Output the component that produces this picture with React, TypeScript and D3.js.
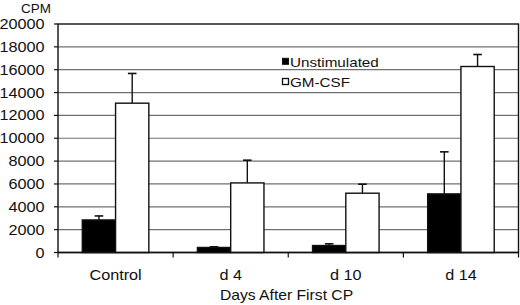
import React from "react";
import * as d3 from "d3";

const categories = ["Control", "d 4", "d 10", "d 14"];
const seriesNames = ["Unstimulated", "GM-CSF"];
const unstimulated = [2850, 440, 610, 5130];
const unstimulatedErr = [350, 60, 150, 3680];
const gmcsf = [13070, 6090, 5190, 16280];
const gmcsfErr = [2600, 1990, 790, 1050];
const yTicks = [0, 2000, 4000, 6000, 8000, 10000, 12000, 14000, 16000, 18000, 20000];

const W = 520;
const H = 305;
const left = 58;
const right = 518.5;
const top = 24;
const bottom = 252.5;
const SX = 1.12;

function T({ x, y, anchor = "start", size = 14, children }: any) {
  return (
    <text
      transform={`translate(${x},${y}) scale(${SX},1)`}
      textAnchor={anchor}
      fontSize={size}
      fontFamily="'Liberation Sans', Arial, sans-serif"
      fill="#111"
    >
      {children}
    </text>
  );
}

export default function App() {
  const x0 = d3.scaleBand<string>().domain(categories).range([left, right]).padding(0);
  const bw = x0.bandwidth();
  const gap = bw * 0.211;
  const x1 = d3.scaleBand<string>().domain(seriesNames).range([gap, bw - gap]).padding(0);
  const y = d3.scaleLinear().domain([0, 20000]).range([bottom, top]);
  const series = [
    { name: seriesNames[0], vals: unstimulated, errs: unstimulatedErr, fill: "#000" },
    { name: seriesNames[1], vals: gmcsf, errs: gmcsfErr, fill: "#fff" },
  ];
  const tickXs = categories.map((c) => x0(c)!).concat([right]);

  return (
    <svg width={W} height={H} style={{ position: "absolute", left: 0, top: 0, background: "#fff" }}>
      <rect x={0} y={0} width={W} height={H} fill="#fff" />
      {yTicks.map((t) => (
        <g key={t}>
          {t > 0 && t < 20000 && (
            <line x1={left} x2={right} y1={y(t)} y2={y(t)} stroke="#707070" strokeWidth={1.2} />
          )}
          <line x1={left - 4} x2={left} y1={y(t)} y2={y(t)} stroke="#111" strokeWidth={1.2} />
          <T x={44.5} y={y(t) + 5} anchor="end" size={14.5}>
            {d3.format("d")(t)}
          </T>
        </g>
      ))}
      <rect x={left} y={top} width={right - left} height={bottom - top} fill="none" stroke="#111" strokeWidth={1.4} />
      {series.map((s, si) =>
        categories.map((c, i) => {
          const bx = x0(c)! + x1(s.name)!;
          const w = x1.bandwidth();
          const cx = bx + w / 2;
          const ytop = y(s.vals[i]);
          const yerr = y(s.vals[i] + s.errs[i]);
          return (
            <g key={`${si}-${i}`}>
              <line x1={cx} x2={cx} y1={ytop} y2={yerr} stroke="#111" strokeWidth={1.4} />
              <line x1={cx - 4.3} x2={cx + 4.3} y1={yerr} y2={yerr} stroke="#111" strokeWidth={1.6} />
              <rect x={bx} y={ytop} width={w} height={bottom - ytop} fill={s.fill} stroke="#111" strokeWidth={1.4} />
            </g>
          );
        })
      )}
      <line x1={left} x2={right} y1={bottom} y2={bottom} stroke="#111" strokeWidth={1.5} />
      {tickXs.map((tx, i) => (
        <line key={i} x1={tx} x2={tx} y1={bottom} y2={bottom + 5} stroke="#111" strokeWidth={1.2} />
      ))}
      {categories.map((c) => (
        <T key={c} x={x0(c)! + bw / 2} y={280} anchor="middle" size={14.5}>
          {c}
        </T>
      ))}
      <T x={286.5} y={300} anchor="middle" size={14}>
        Days After First CP
      </T>
      <T x={36} y={12.5} anchor="middle" size={12}>
        CPM
      </T>
      <rect x={282.5} y={58.3} width={6} height={6} fill="#000" stroke="#111" strokeWidth={1} />
      <T x={290} y={66.5} size={13.6}>
        Unstimulated
      </T>
      <rect x={282.5} y={78.5} width={6} height={6} fill="#fff" stroke="#111" strokeWidth={1.3} />
      <T x={290} y={86.5} size={13.6}>
        GM-CSF
      </T>
    </svg>
  );
}
